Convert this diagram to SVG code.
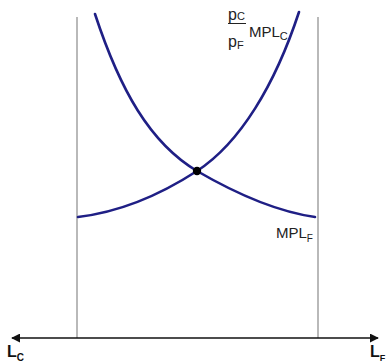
<svg xmlns="http://www.w3.org/2000/svg" width="388" height="364" viewBox="0 0 388 364">
<style>
.guide{stroke:#8a8a8a;stroke-width:1.2;fill:none}
.curve{stroke:#1f1f85;stroke-width:2.6;fill:none;stroke-linecap:round}
.axis{stroke:#111;stroke-width:1.5;fill:none}
.lbl{font-family:"Liberation Sans",Arial,sans-serif;fill:#222}
.ax{font-family:"Liberation Sans",Arial,sans-serif;fill:#111;font-weight:bold}
</style>
<defs>
<marker id="ah" viewBox="0 0 10 10" refX="9" refY="5" markerWidth="9" markerHeight="9" markerUnits="userSpaceOnUse" orient="auto-start-reverse">
<path d="M0,0 L10,5 L0,10 z" fill="#111"/>
</marker>
</defs>
<g id="connectors">
<line class="guide" x1="77" y1="17" x2="77" y2="338"/>
<line class="guide" x1="318" y1="17" x2="318" y2="338"/>
<line class="axis" x1="12" y1="338" x2="378" y2="338" marker-start="url(#ah)" marker-end="url(#ah)"/>
</g>
<g id="mplF-curve">
<path class="curve" d="M95,14 C120,90 150,143 197,171 C240,196 280,212 315,217"/>
</g>
<g id="mplC-curve">
<path class="curve" d="M78,217 C120,212 160,195 197,171 C240,143 275,85 299,12"/>
</g>
<g id="equilibrium">
<circle cx="197" cy="171" r="4.2" fill="#000"/>
</g>
<g id="label-mplC">
<text class="lbl" x="228" y="20" font-size="16">p<tspan font-size="11" dy="0">C</tspan></text>
<line x1="228" y1="23.5" x2="246" y2="23.5" stroke="#222" stroke-width="1"/>
<text class="lbl" x="228" y="47" font-size="16">p<tspan font-size="11" dy="2">F</tspan></text>
<text class="lbl" x="249" y="37" font-size="15">MPL<tspan font-size="11" dy="3">C</tspan></text>
</g>
<g id="label-mplF">
<text class="lbl" x="276" y="238" font-size="15">MPL<tspan font-size="10" dy="4">F</tspan></text>
</g>
<g id="label-LC">
<text class="ax" x="7" y="357" font-size="16">L<tspan font-size="10" dy="4">C</tspan></text>
</g>
<g id="label-LF">
<text class="ax" x="370" y="357" font-size="16">L<tspan font-size="9" dy="4">F</tspan></text>
</g>
</svg>
